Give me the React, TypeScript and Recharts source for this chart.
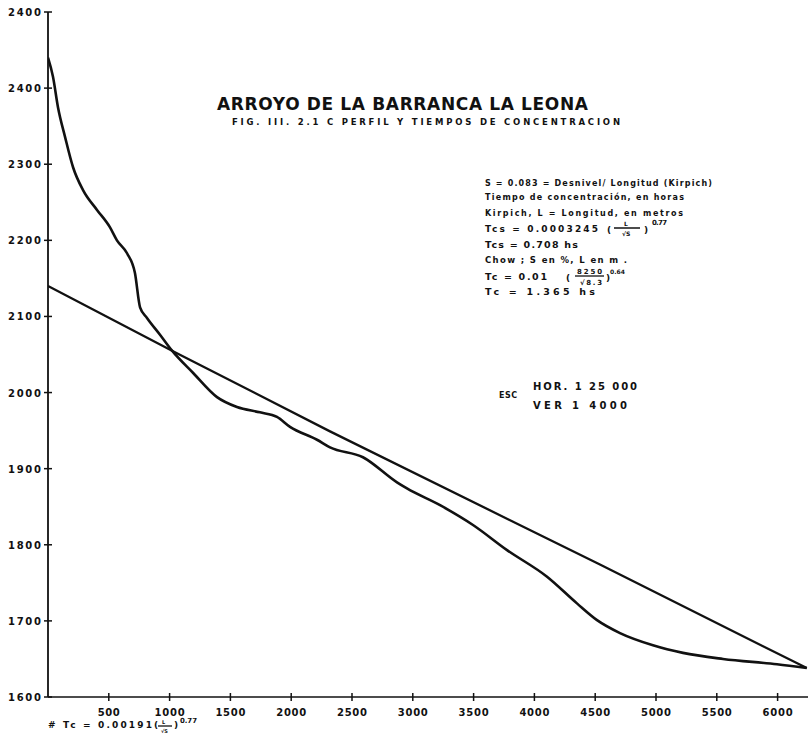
import { LineChart, Line, XAxis, YAxis } from 'recharts';

// perfil del cauce: distancia (m) / cota (m)
const profileDist = [0, 41, 82, 140, 206, 288, 403, 510, 567, 650, 715, 757, 814, 921, 1020, 1192, 1390, 1554, 1743, 1883, 1990, 2212, 2319, 2590, 2870, 2952, 3224, 3495, 3775, 4104, 4350, 4515, 4704, 4975, 5222, 5551, 5995, 6240];
const profileElev = [2440, 2415, 2375, 2336, 2296, 2266, 2240, 2217, 2200, 2183, 2157, 2112, 2098, 2076, 2055, 2026, 1994, 1981, 1974, 1968, 1955, 1938, 1928, 1915, 1882, 1874, 1852, 1826, 1793, 1758, 1723, 1701, 1684, 1668, 1658, 1650, 1643, 1638];

// pendiente media (linea recta)
const slopeDist = [0, 1020, 2319, 4539, 6240];
const slopeElev = [2140, 2055, 1949, 1774, 1638];

const xTicks = [500, 1000, 1500, 2000, 2500, 3000, 3500, 4000, 4500, 5000, 5500, 6000];
const yTicks = [1600, 1700, 1800, 1900, 2000, 2100, 2200, 2300, 2400, 2500];
const yLabels = ['1600', '1700', '1800', '1900', '2000', '2100', '2200', '2300', '2400', '2400'];

const profile = profileDist.map((d, i) => ({ d, z: profileElev[i] }));
const slope = slopeDist.map((d, i) => ({ d, z: slopeElev[i] }));

const INK = '#111';
const FONT = '"DejaVu Sans", sans-serif';

const YTick = (props: any) => {
  const { x, y, payload } = props;
  const label = yLabels[yTicks.indexOf(payload.value)];
  return (
    <g>
      <line x1={x - 4} x2={x + 4} y1={y} y2={y} stroke={INK} strokeWidth={1.5} />
      <text x={x - 7} y={y + 4} textAnchor="end" fontFamily={FONT} fontWeight="bold" fontSize={10} fill={INK} textLength={33} lengthAdjust="spacing">
        {label}
      </text>
    </g>
  );
};

const XTick = (props: any) => {
  const { x, y, payload } = props;
  const s = String(payload.value);
  return (
    <g>
      <line x1={x} x2={x} y1={y - 4} y2={y + 4} stroke={INK} strokeWidth={1.5} />
      <text x={x} y={y + 19} textAnchor="middle" fontFamily={FONT} fontWeight="bold" fontSize={10} fill={INK} textLength={s.length === 3 ? 22 : 30} lengthAdjust="spacing">
        {s}
      </text>
    </g>
  );
};

const T = (p: any) => (
  <text fontFamily={FONT} fontWeight="bold" fill={INK} fontSize={9} lengthAdjust="spacing" {...p} />
);

export default function App() {
  return (
    <div style={{ position: 'absolute', left: 0, top: 0, width: 808, height: 741, background: '#fff' }}>
      <LineChart width={808} height={741} margin={{ top: 12, right: 0, bottom: 0, left: 0 }}>
        <XAxis
          type="number"
          dataKey="d"
          domain={[0, 6250]}
          ticks={xTicks}
          height={44}
          tickSize={0}
          tickMargin={0}
          tickLine={false}
          axisLine={{ stroke: INK, strokeWidth: 1.5 }}
          tick={<XTick />}
          allowDataOverflow
        />
        <YAxis
          type="number"
          dataKey="z"
          domain={[1600, 2500]}
          ticks={yTicks}
          width={48}
          tickSize={0}
          tickMargin={0}
          tickLine={false}
          axisLine={{ stroke: INK, strokeWidth: 1.8 }}
          tick={<YTick />}
          allowDataOverflow
        />
        <Line data={profile} dataKey="z" type="monotone" stroke={INK} strokeWidth={2.6} dot={false} isAnimationActive={false} />
        <Line data={slope} dataKey="z" type="linear" stroke={INK} strokeWidth={2.3} dot={false} isAnimationActive={false} />
      </LineChart>
      <svg width={808} height={741} style={{ position: 'absolute', left: 0, top: 0, pointerEvents: 'none' }}>
        <T x={217} y={110} fontSize={17} textLength={371}>ARROYO DE LA BARRANCA LA LEONA</T>
        <T x={232} y={125} fontSize={8.5} textLength={388}>FIG. III. 2.1 C  PERFIL Y TIEMPOS DE CONCENTRACION</T>

        <T x={485} y={186} fontSize={8} textLength={227}>S = 0.083 = Desnivel/ Longitud (Kirpich)</T>
        <T x={485} y={200} fontSize={8} textLength={199}>Tiempo de concentración, en horas</T>
        <T x={485} y={216} fontSize={8} textLength={198}>Kirpich, L = Longitud, en metros</T>
        <T x={485} y={232} textLength={113}>Tcs = 0.0003245</T>
        <T x={607} y={233}>(</T>
        <T x={624} y={226} fontSize={6}>L</T>
        <line x1={614} x2={640} y1={228} y2={228} stroke={INK} strokeWidth={1.5} />
        <T x={622} y={236} fontSize={6}>√S</T>
        <T x={644} y={233}>)</T>
        <T x={652} y={225} fontSize={7} textLength={15}>0.77</T>
        <T x={485} y={248} fontSize={9.5} textLength={93}>Tcs = 0.708 hs</T>
        <T x={485} y={263} fontSize={8.5} textLength={142}>Chow ; S en %, L en m .</T>
        <T x={485} y={280} fontSize={9.5} textLength={62}>Tc = 0.01</T>
        <T x={566} y={281}>(</T>
        <T x={577} y={274} fontSize={7} textLength={25}>8250</T>
        <line x1={575} x2={604} y1={276} y2={276} stroke={INK} strokeWidth={1.3} />
        <T x={580} y={285} fontSize={7} textLength={22}>√8.3</T>
        <T x={606} y={281}>)</T>
        <T x={610} y={274} fontSize={6} textLength={15}>0.64</T>
        <T x={485} y={295} fontSize={9.5} textLength={110}>Tc = 1.365 hs</T>

        <T x={499} y={398} fontSize={8} textLength={18}>ESC</T>
        <T x={533} y={390} fontSize={10} textLength={104}>HOR. 1 25 000</T>
        <T x={533} y={409} fontSize={10} textLength={94}>VER 1 4000</T>

        <T x={48} y={728} textLength={104}># Tc = 0.00191</T>
        <T x={154} y={728}>(</T>
        <T x={162} y={724} fontSize={5}>L</T>
        <line x1={158} x2={172} y1={726} y2={726} stroke={INK} strokeWidth={1.3} />
        <T x={161} y={733} fontSize={5}>√S</T>
        <T x={174} y={728}>)</T>
        <T x={180} y={723} fontSize={7} textLength={17}>0.77</T>
      </svg>
    </div>
  );
}
